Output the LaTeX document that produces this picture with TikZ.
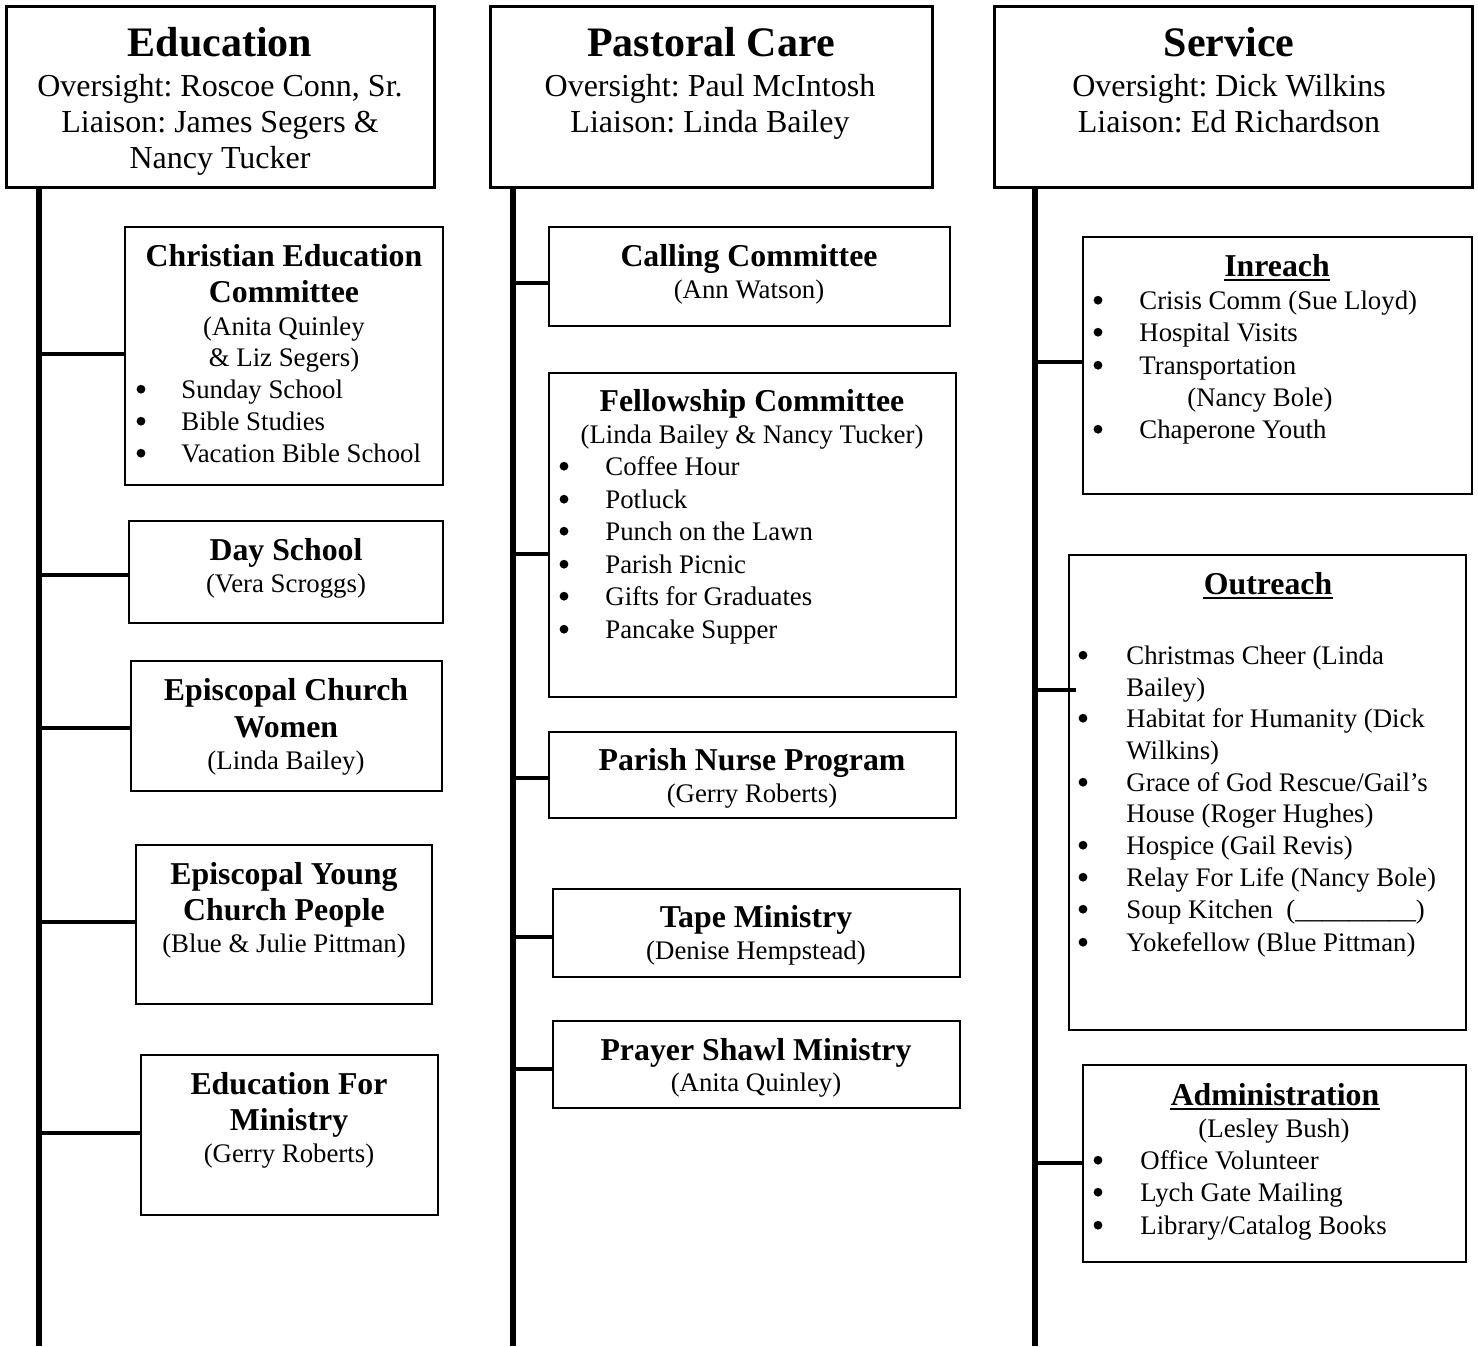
\documentclass[tikz,border=0pt]{standalone}
\usepackage{fontspec}
\setmainfont{Liberation Serif}
\usetikzlibrary{fit}
\frenchspacing
\newcommand{\bodyf}{\fontsize{13.4pt}{16pt}\selectfont}
\newcommand{\boldf}{\fontsize{15.9pt}{18pt}\selectfont\bfseries}
\newcommand{\headf}{\fontsize{16pt}{18pt}\selectfont}
\newcommand{\titlef}{\fontsize{21pt}{24pt}\selectfont\bfseries}
\tikzset{
 hdr/.style={draw, line width=1.5pt, inner sep=0pt},
 sub/.style={draw, line width=0.75pt, inner sep=0pt},
 spine/.style={line width=3pt},
 conn/.style={line width=2.2pt},
 tc/.style={inner sep=0pt, anchor=base, font=\bodyf},
 tl/.style={inner sep=0pt, anchor=base west, font=\bodyf},
 bul/.style={circle, fill, draw=none, inner sep=0pt, minimum size=4.4pt, yshift=4.4pt},
 tbd/.style={inner sep=0pt, anchor=base, font=\boldf},
 tt/.style={inner sep=0pt, anchor=base, font=\titlef},
 th/.style={inner sep=0pt, anchor=base, font=\headf},
 ul/.style={line width=1pt},
}
\begin{document}
\begin{tikzpicture}[x=0.5pt,y=-0.5pt]
\useasboundingbox (0,0) rectangle (1478,1346);
% ---------- headers ----------
\node[hdr, fit={(6,6) (434,187)}] (edu) {};
\node[tt] (eduT) at (220,56) {Education};
\node[th] (eduO) at (220,96) {Oversight: Roscoe Conn, Sr.};
\node[th] (eduL) at (220,132) {Liaison: James Segers \&};
\node[th] (eduL2) at (220,168) {Nancy Tucker};

\node[hdr, fit={(490,6) (932,187)}] (pas) {};
\node[tt] (pasT) at (711,56) {Pastoral Care};
\node[th] (pasO) at (710,96) {Oversight: Paul McIntosh};
\node[th] (pasL) at (710,132) {Liaison: Linda Bailey};

\node[hdr, fit={(994,6) (1472,187)}] (ser) {};
\node[tt] (serT) at (1229,56) {Service};
\node[th] (serO) at (1229,96) {Oversight: Dick Wilkins};
\node[th] (serL) at (1229,132) {Liaison: Ed Richardson};

% ---------- spines ----------
\coordinate (ebot) at (39,1346);
\coordinate (pbot) at (513,1346);
\coordinate (sbot) at (1035,1346);
\draw[spine] (edu.south -| ebot) -- (ebot);
\draw[spine] (pas.south -| pbot) -- (pbot);
\draw[spine] (ser.south -| sbot) -- (sbot);

% ---------- Education column ----------
\node[sub, fit={(125,227) (443,485)}] (ce) {};
\node[tbd] (ce1) at (284,266) {Christian Education};
\node[tbd] (ce2) at (284,302) {Committee};
\node[tc] (ce3) at (284,335) {(Anita Quinley};
\node[tc] (ce4) at (284,366) {\& Liz Segers)};
\node[bul] (ceb1) at (141,398) {};
\node[tl] (cei1) at (181,398) {Sunday School};
\node[bul] (ceb2) at (141,430) {};
\node[tl] (cei2) at (181,430) {Bible Studies};
\node[bul] (ceb3) at (141,462) {};
\node[tl] (cei3) at (181,462) {Vacation Bible School};

\node[sub, fit={(129,521) (443,623)}] (ds) {};
\node[tbd] (ds1) at (286,560) {Day School};
\node[tc] (ds2) at (286,592) {(Vera Scroggs)};

\node[sub, fit={(131,661) (442,791)}] (ecw) {};
\node[tbd] (ecw1) at (286,700) {Episcopal Church};
\node[tbd] (ecw2) at (286,737) {Women};
\node[tc] (ecw3) at (286,769) {(Linda Bailey)};

\node[sub, fit={(136,845) (432,1004)}] (eyc) {};
\node[tbd] (eyc1) at (284,884) {Episcopal Young};
\node[tbd] (eyc2) at (284,920) {Church People};
\node[tc] (eyc3) at (284,952) {(Blue \& Julie Pittman)};

\node[sub, fit={(141,1055) (438,1215)}] (efm) {};
\node[tbd] (efm1) at (289,1094) {Education For};
\node[tbd] (efm2) at (289,1130) {Ministry};
\node[tc] (efm3) at (289,1162) {(Gerry Roberts)};

\coordinate (ec1) at (39,354);
\coordinate (ec2) at (39,575);
\coordinate (ec3) at (39,728);
\coordinate (ec4) at (39,922);
\coordinate (ec5) at (39,1133);
\draw[conn] (ec1) -- (ec1 -| ce.west);
\draw[conn] (ec2) -- (ec2 -| ds.west);
\draw[conn] (ec3) -- (ec3 -| ecw.west);
\draw[conn] (ec4) -- (ec4 -| eyc.west);
\draw[conn] (ec5) -- (ec5 -| efm.west);

% ---------- Pastoral Care column ----------
\node[sub, fit={(549,227) (950,326)}] (cc) {};
\node[tbd] (cc1) at (749,266) {Calling Committee};
\node[tc] (cc2) at (749,298) {(Ann Watson)};

\node[sub, fit={(549,373) (956,697)}] (fc) {};
\node[tbd] (fc1) at (752,411) {Fellowship Committee};
\node[tc] (fc2) at (752,443) {(Linda Bailey \& Nancy Tucker)};
\node[bul] (fcb1) at (564,475) {};
\node[tl] (fci1) at (605,475) {Coffee Hour};
\node[bul] (fcb2) at (564,508) {};
\node[tl] (fci2) at (605,508) {Potluck};
\node[bul] (fcb3) at (564,540) {};
\node[tl] (fci3) at (605,540) {Punch on the Lawn};
\node[bul] (fcb4) at (564,573) {};
\node[tl] (fci4) at (605,573) {Parish Picnic};
\node[bul] (fcb5) at (564,605) {};
\node[tl] (fci5) at (605,605) {Gifts for Graduates};
\node[bul] (fcb6) at (564,638) {};
\node[tl] (fci6) at (605,638) {Pancake Supper};

\node[sub, fit={(549,732) (956,818)}] (pn) {};
\node[tbd] (pn1) at (752,770) {Parish Nurse Program};
\node[tc] (pn2) at (752,802) {(Gerry Roberts)};

\node[sub, fit={(553,889) (960,977)}] (tm) {};
\node[tbd] (tm1) at (756,927) {Tape Ministry};
\node[tc] (tm2) at (756,959) {(Denise Hempstead)};

\node[sub, fit={(553,1021) (960,1108)}] (psm) {};
\node[tbd] (psm1) at (756,1060) {Prayer Shawl Ministry};
\node[tc] (psm2) at (756,1091) {(Anita Quinley)};

\coordinate (pc1) at (513,283);
\coordinate (pc2) at (513,554);
\coordinate (pc3) at (513,778);
\coordinate (pc4) at (513,937);
\coordinate (pc5) at (513,1069);
\draw[conn] (pc1) -- (pc1 -| cc.west);
\draw[conn] (pc2) -- (pc2 -| fc.west);
\draw[conn] (pc3) -- (pc3 -| pn.west);
\draw[conn] (pc4) -- (pc4 -| tm.west);
\draw[conn] (pc5) -- (pc5 -| psm.west);

% ---------- Service column ----------
\node[sub, fit={(1083,237) (1472,494)}] (inr) {};
\node[tbd] (inr1) at (1277,276) {Inreach};
\draw[ul] ([yshift=-2.2pt]inr1.base west) -- ([yshift=-2.2pt]inr1.base east);
\node[bul] (inb1) at (1098,309) {};
\node[tl] (ini1) at (1139,309) {Crisis Comm (Sue Lloyd)};
\node[bul] (inb2) at (1098,341) {};
\node[tl] (ini2) at (1139,341) {Hospital Visits};
\node[bul] (inb3) at (1098,374) {};
\node[tl] (ini3) at (1139,374) {Transportation};
\node[tl] (ini3b) at (1187,406) {(Nancy Bole)};
\node[bul] (inb4) at (1098,438) {};
\node[tl] (ini4) at (1139,438) {Chaperone Youth};

\node[sub, fit={(1069,555) (1466,1030)}] (out) {};
\node[tbd] (out1) at (1268,594) {Outreach};
\draw[ul] ([yshift=-2.2pt]out1.base west) -- ([yshift=-2.2pt]out1.base east);
\node[bul] (oub1) at (1083,664) {};
\node[tl] (oui1) at (1126,664) {Christmas Cheer (Linda};
\node[tl] (oui1b) at (1126,696) {Bailey)};
\node[bul] (oub2) at (1083,727) {};
\node[tl] (oui2) at (1126,727) {Habitat for Humanity (Dick};
\node[tl] (oui2b) at (1126,759) {Wilkins)};
\node[bul] (oub3) at (1083,791) {};
\node[tl] (oui3) at (1126,791) {Grace of God Rescue/Gail’s};
\node[tl] (oui3b) at (1126,822) {House (Roger Hughes)};
\node[bul] (oub4) at (1083,854) {};
\node[tl] (oui4) at (1126,854) {Hospice (Gail Revis)};
\node[bul] (oub5) at (1083,886) {};
\node[tl] (oui5) at (1126,886) {Relay For Life (Nancy Bole)};
\node[bul] (oub6) at (1083,918) {};
\node[tl] (oui6) at (1126,918) {Soup Kitchen\ \ (\_\_\_\_\_\_\_\_\_)};
\node[bul] (oub7) at (1083,951) {};
\node[tl] (oui7) at (1126,951) {Yokefellow (Blue Pittman)};

\node[sub, fit={(1083,1065) (1466,1262)}] (adm) {};
\node[tbd] (adm1) at (1275,1105) {Administration};
\draw[ul] ([yshift=-2.2pt]adm1.base west) -- ([yshift=-2.2pt]adm1.base east);
\node[tc] (adm2) at (1274,1137) {(Lesley Bush)};
\node[bul] (adb1) at (1098,1169) {};
\node[tl] (adi1) at (1140,1169) {Office Volunteer};
\node[bul] (adb2) at (1098,1201) {};
\node[tl] (adi2) at (1140,1201) {Lych Gate Mailing};
\node[bul] (adb3) at (1098,1234) {};
\node[tl] (adi3) at (1140,1234) {Library/Catalog Books};

\coordinate (sc1) at (1035,362);
\coordinate (sc2) at (1035,690);
\coordinate (sc3) at (1035,1163);
\draw[conn] (sc1) -- (sc1 -| inr.west);
\draw[conn] (sc2) -- ([xshift=4pt]sc2 -| out.west);
\draw[conn] (sc3) -- (sc3 -| adm.west);
\end{tikzpicture}
\end{document}
